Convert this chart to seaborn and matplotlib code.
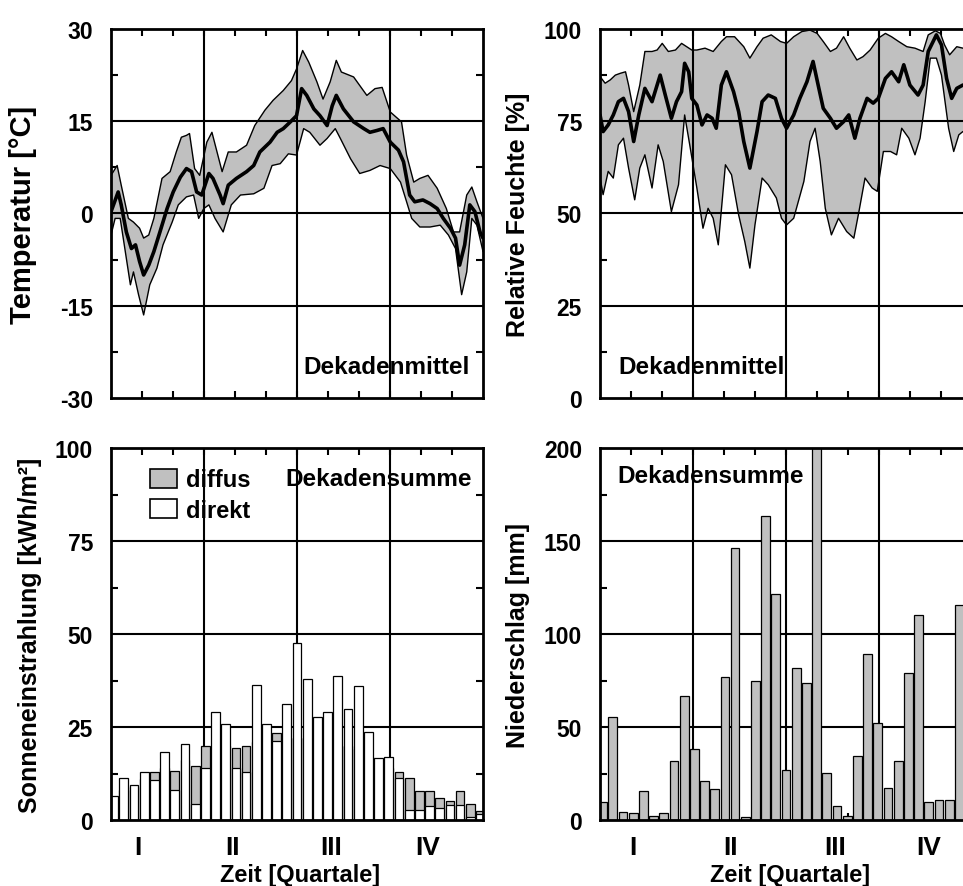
import numpy as np
import pandas as pd
import matplotlib
matplotlib.use('Agg')
import matplotlib.pyplot as plt
from matplotlib.patches import Patch
import seaborn as sns

sns.set_style("ticks")
plt.rcParams['font.family'] = ['Liberation Sans', 'DejaVu Sans']
plt.rcParams['font.weight'] = 'bold'
plt.rcParams['axes.labelweight'] = 'bold'
plt.rcParams['text.color'] = 'black'
plt.rcParams['axes.labelcolor'] = 'black'
plt.rcParams['xtick.color'] = 'black'
plt.rcParams['ytick.color'] = 'black'
plt.rcParams['axes.unicode_minus'] = False

# --- Temperatur (Tag im Jahr, Wert in °C) ---
temp_mean_day = [0, 7, 10, 15, 20, 24, 28, 32, 37, 42, 48, 55, 61, 68, 74, 79, 84, 89, 96, 100,
                 107, 110, 115, 123, 133, 140, 146, 156, 163, 169, 176, 182, 187, 192, 199, 205,
                 212, 217, 221, 228, 238, 248, 254, 261, 267, 274, 282, 287, 293, 298, 306, 313,
                 320, 326, 333, 338, 342, 347, 352, 357, 362, 365]
temp_mean = [0.3, 3.5, 1.4, -3, -5.7, -5.1, -7.8, -10, -8.4, -6.2, -3, 0.8, 3.5, 5.9, 7.3, 6.8, 3.5,
             3, 6.5, 5.7, 3, 1.6, 4.6, 5.7, 6.8, 7.8, 10, 11.6, 13.2, 13.8, 14.9, 15.9, 20.3, 19.2,
             17, 15.9, 14.3, 17.5, 19.2, 17, 14.9, 13.8, 13.2, 13.5, 13.8, 11.6, 10.3, 8.4, 3, 1.9,
             2.2, 1.6, 0.8, -0.8, -2.4, -4, -8.4, -5.1, 1.4, 0.3, -3, -4]
temp_max_day = [0, 6, 10, 17, 22, 28, 32, 37, 42, 50, 58, 64, 69, 74, 77, 82, 87, 94, 99, 104, 109,
                115, 123, 133, 141, 151, 159, 169, 177, 182, 188, 194, 202, 208, 215, 221, 226, 238,
                251, 259, 266, 274, 285, 290, 297, 303, 311, 320, 329, 336, 342, 349, 354, 359, 365]
temp_max = [6.2, 7.8, 4.6, -0.8, -1.4, -2.4, -4, -3.5, -0.8, 5.7, 6.8, 10, 12.4, 12.7, 13, 7.3, 6.2,
            11.6, 13.2, 10, 6.8, 10, 10, 11.1, 14.3, 16.8, 18.4, 20, 21.6, 23.5, 26.5, 24.6, 21.4,
            18.6, 21.4, 24.9, 23, 22.2, 19.2, 20.3, 20.5, 16.5, 14.9, 9.5, 5.1, 5.7, 6.2, 4.1, 0.8,
            -3, -3, 3, 4.3, 1.9, -0.8]
temp_min_day = [0, 4, 9, 14, 19, 22, 27, 32, 38, 45, 51, 60, 66, 74, 81, 86, 91, 96, 102, 110, 118,
                127, 140, 150, 158, 166, 174, 182, 189, 195, 205, 212, 220, 225, 235, 244, 254, 264,
                274, 284, 290, 295, 303, 313, 323, 331, 338, 344, 349, 354, 359, 365]
temp_min = [-3.5, -0.8, -0.8, -6.2, -11.6, -9.5, -13.2, -16.5, -11.6, -8.9, -5.1, -1.4, 1.4, 2.7, 3,
            -0.8, 0.8, 1.4, -0.8, -3, 1.4, 3, 3.2, 4.1, 7.8, 8.1, 9.7, 9.5, 13.8, 13.2, 11.1, 12.2,
            13.8, 12.2, 8.9, 6.5, 7, 7.8, 7.3, 5.1, 1.9, -0.8, -2.2, -2.2, -1.9, -3.5, -5.7, -13.2,
            -9.5, -0.8, -1.9, -6.2]

# --- Relative Feuchte (%) ---
hum_mean_day = [0, 3, 8, 13, 18, 23, 28, 33, 38, 44, 51, 59, 64, 70, 75, 80, 83, 87, 90, 95, 100,
                105, 110, 114, 119, 124, 131, 136, 141, 147, 154, 159, 165, 172, 178, 183, 190, 196,
                203, 209, 214, 219, 226, 232, 239, 244, 250, 255, 262, 268, 273, 280, 286, 293, 298,
                304, 312, 317, 322, 330, 335, 340, 345, 350, 356, 365]
hum_mean = [76.7, 72.2, 74, 76.7, 80.3, 81.2, 77.6, 69.5, 76.7, 83.9, 80.3, 87.5, 82.1, 75.8, 80.3,
            83, 90.7, 88.4, 81.2, 79.4, 74, 76.7, 75.8, 73.1, 84.8, 88.4, 83, 77.6, 69.5, 62.3,
            72.2, 80.3, 82.1, 81.2, 75.8, 73.1, 76.7, 81.2, 85.7, 91.2, 84.8, 78.5, 75.8, 73.1,
            74.9, 76.7, 70.4, 75.8, 81.2, 79.9, 81.2, 86.6, 88.4, 85.7, 90.3, 84.8, 82.1, 84.8,
            93.9, 98.4, 95.7, 86.6, 81.2, 83.9, 84.8, 84.8]
hum_max_day = [0, 5, 10, 15, 20, 25, 28, 33, 39, 44, 51, 56, 61, 67, 74, 80, 85, 90, 95, 103, 111,
               119, 124, 132, 141, 147, 154, 160, 168, 177, 183, 190, 198, 206, 213, 219, 226, 232,
               239, 245, 252, 258, 265, 273, 280, 286, 293, 301, 309, 317, 322, 329, 334, 338, 343,
               350, 356, 365]
hum_max = [87.1, 85.3, 86.2, 87.5, 88, 88.4, 84.8, 77.6, 84.8, 93.9, 93.9, 94.3, 96.1, 93.9, 94.3,
           96.1, 95.2, 94.3, 94.3, 94.8, 93.9, 96.6, 97.9, 97.9, 95.2, 92.1, 95.2, 97.5, 98.4,
           96.6, 96.1, 97.9, 99.3, 99.7, 98.8, 96.6, 93.9, 94.8, 97.9, 94.8, 91.6, 92.5, 94.3,
           97.5, 98.8, 97.9, 96.6, 95.2, 94.8, 93.9, 98.4, 99.5, 98.8, 95.7, 93, 95.2, 94.8, 94.8]
hum_min_day = [0, 3, 8, 13, 18, 23, 28, 34, 39, 44, 51, 57, 62, 70, 77, 83, 88, 95, 101, 106, 111,
               116, 123, 129, 136, 142, 147, 152, 159, 165, 173, 178, 183, 190, 200, 206, 211, 216,
               221, 227, 234, 242, 249, 254, 260, 267, 272, 278, 285, 291, 296, 303, 309, 314, 319,
               324, 330, 335, 342, 347, 352, 356, 365]
hum_min = [59.6, 55.1, 61.4, 59.6, 68.6, 70.4, 62.3, 53.7, 62.3, 65.9, 56.9, 68.6, 64.1, 50.5, 57.8,
           76.7, 68.6, 56.9, 46, 51.4, 48.7, 41.5, 63.2, 60.5, 49.6, 42.4, 35.2, 46.9, 59.6, 57.8,
           54.2, 48.7, 46.9, 48.7, 58.7, 69.5, 73.1, 64.1, 51.4, 44.2, 48.7, 45.1, 43.3, 50.5,
           59.6, 56.9, 56, 66.8, 66.8, 65.9, 73.1, 70.4, 65.9, 70.4, 80.3, 92.1, 92.1, 87.5, 73.1,
           66.8, 71.3, 72.2, 72]

# --- Dekadensummen ---
bar_day = [2.5 + 10 * k for k in range(37)]
rad_diffus = [5, 8, 9, 11, 12.8, 14, 13.3, 16, 14.4, 20, 19, 20, 19.4, 20, 21, 22, 23.4, 22, 22,
              22, 21, 21, 20, 20, 19, 17, 15, 14, 12.8, 11.2, 7.9, 7.9, 5.9, 5, 7.9, 4.3, 2.3]
rad_direkt = [6.4, 11.3, 9.5, 12.8, 10.8, 18.4, 8.2, 20.4, 4.3, 14.1, 29, 25.8, 13.9, 13, 36.3,
              25.8, 21.3, 31.2, 47.6, 37.9, 27.8, 29, 38.8, 29.9, 36.1, 23.6, 16.6, 17, 11.3, 2.6,
              2.6, 3.7, 3.3, 4, 4.1, 0.7, 1.6]
niederschlag = [9.5, 55.2, 4.5, 3.8, 15.8, 2.3, 3.8, 31.9, 66.5, 38.2, 21.1, 16.7, 77, 146.2, 1.4,
                75, 163.2, 121.3, 26.9, 81.8, 73.8, 215, 25.1, 7.7, 2, 34.6, 89.3, 52, 17, 31.9,
                78.9, 110, 9.5, 10.9, 10.9, 115.7, 30]

quarter_labels = ['I', 'II', 'III', 'IV']
gray = '#c0c0c0'

rad_df = pd.DataFrame({
    'Tag': bar_day * 2,
    'Wert': rad_diffus + rad_direkt,
    'Art': ['diffus'] * len(bar_day) + ['direkt'] * len(bar_day),
})
rain_df = pd.DataFrame({'Tag': bar_day, 'Wert': niederschlag})


def setup(ax, ylim, ystep, xlab_pos=None, grid_z=1.5):
    ax.set_xlim(0, 365)
    ax.set_ylim(ylim)
    ax.set_yticks(np.arange(ylim[0], ylim[1] + 1, ystep))
    ax.set_yticks(np.arange(ylim[0] + ystep / 2, ylim[1], ystep), minor=True)
    ax.set_xticks(np.arange(1, 12) * 365 / 12, minor=True)
    if xlab_pos is None:
        ax.set_xticks([])
    else:
        ax.set_xticks(xlab_pos, quarter_labels)
    ax.tick_params(which='major', direction='in', length=0, labelsize=16.5, pad=13)
    ax.tick_params(axis='x', which='major', labelsize=19, pad=11)
    ax.tick_params(which='minor', direction='in', length=5, width=1.5, color='black',
                   top=True, right=True, bottom=True, left=True)
    for y in np.arange(ylim[0] + ystep, ylim[1], ystep):
        ax.axhline(y, color='black', lw=1.5, zorder=grid_z)
    for q in [91.25, 182.5, 273.75]:
        ax.axvline(q, color='black', lw=1.5, zorder=grid_z)
    for s in ax.spines.values():
        s.set_linewidth(2)
        s.set_color('black')
        s.set_zorder(5)
    ax.set_xlabel('')
    ax.set_ylabel('')


def band_plot(ax, dmin, vmin, dmax, vmax, dmean, vmean):
    ax.fill(np.concatenate([dmax, dmin[::-1]]), np.concatenate([vmax, vmin[::-1]]),
            color=gray, lw=0, zorder=1)
    sns.lineplot(x=dmax, y=vmax, ax=ax, color='black', lw=1, estimator=None, sort=False, zorder=3)
    sns.lineplot(x=dmin, y=vmin, ax=ax, color='black', lw=1, estimator=None, sort=False, zorder=3)
    sns.lineplot(x=dmean, y=vmean, ax=ax, color='black', lw=2.6, estimator=None, sort=False, zorder=4)


fig = plt.figure(figsize=(9.63, 8.87), dpi=100)
ax_t = fig.add_axes([0.1153, 0.5502, 0.3863, 0.416])
ax_h = fig.add_axes([0.6231, 0.5502, 0.3863, 0.416])
ax_r = fig.add_axes([0.1153, 0.0744, 0.3863, 0.4194])
ax_n = fig.add_axes([0.6231, 0.0744, 0.3863, 0.4194])

# Temperatur
band_plot(ax_t, temp_min_day, temp_min, temp_max_day, temp_max, temp_mean_day, temp_mean)
setup(ax_t, (-30, 30), 15)
ax_t.set_ylabel('Temperatur [°C]', fontsize=21)
ax_t.yaxis.set_label_coords(-0.2, 0.5)
ax_t.text(0.965, 0.084, 'Dekadenmittel', transform=ax_t.transAxes, ha='right', va='center',
          fontsize=17.5, fontweight='bold', zorder=6)

# Relative Feuchte
band_plot(ax_h, hum_min_day, hum_min, hum_max_day, hum_max, hum_mean_day, hum_mean)
setup(ax_h, (0, 100), 25)
ax_h.set_ylabel('Relative Feuchte [%]', fontsize=18)
ax_h.yaxis.set_label_coords(-0.188, 0.5)
ax_h.text(0.048, 0.084, 'Dekadenmittel', transform=ax_h.transAxes, ha='left', va='center',
          fontsize=17.5, fontweight='bold', zorder=6)

# Sonneneinstrahlung: diffus hinten, direkt davor (ueberlagert, nicht gestapelt)
sns.barplot(data=rad_df, x='Tag', y='Wert', hue='Art', dodge=False, native_scale=True,
            width=0.86, palette={'diffus': gray, 'direkt': 'white'}, saturation=1,
            edgecolor='black', linewidth=0.9, errorbar=None, legend=False, ax=ax_r, zorder=2)
setup(ax_r, (0, 100), 25, xlab_pos=[26, 119, 216, 311], grid_z=0.5)
ax_r.set_ylabel('Sonneneinstrahlung [kWh/m²]', fontsize=18)
ax_r.yaxis.set_label_coords(-0.185, 0.5)
ax_r.set_xlabel('Zeit [Quartale]', fontsize=17)
ax_r.xaxis.set_label_coords(0.508, -0.115)
ax_r.text(0.97, 0.917, 'Dekadensumme', transform=ax_r.transAxes, ha='right', va='center',
          fontsize=17.5, fontweight='bold', zorder=6)
handles = [Patch(facecolor=gray, edgecolor='black', lw=1.2, label='diffus'),
           Patch(facecolor='white', edgecolor='black', lw=1.2, label='direkt')]
ax_r.legend(handles=handles, loc='upper left', bbox_to_anchor=(0.105, 0.945), frameon=False,
            fontsize=17, handlelength=1.15, handleheight=0.85, handletextpad=0.35,
            labelspacing=0.3, borderaxespad=0, borderpad=0)

# Niederschlag
sns.barplot(data=rain_df, x='Tag', y='Wert', native_scale=True, width=0.86, color=gray,
            saturation=1, edgecolor='black', linewidth=0.9, errorbar=None, ax=ax_n, zorder=2)
setup(ax_n, (0, 200), 50, xlab_pos=[32, 128, 231, 322], grid_z=0.5)
ax_n.set_ylabel('Niederschlag [mm]', fontsize=18)
ax_n.yaxis.set_label_coords(-0.188, 0.5)
ax_n.set_xlabel('Zeit [Quartale]', fontsize=17)
ax_n.xaxis.set_label_coords(0.51, -0.115)
ax_n.text(0.046, 0.925, 'Dekadensumme', transform=ax_n.transAxes, ha='left', va='center',
          fontsize=17.5, fontweight='bold', zorder=6)

fig.savefig('out.png', dpi=100)
